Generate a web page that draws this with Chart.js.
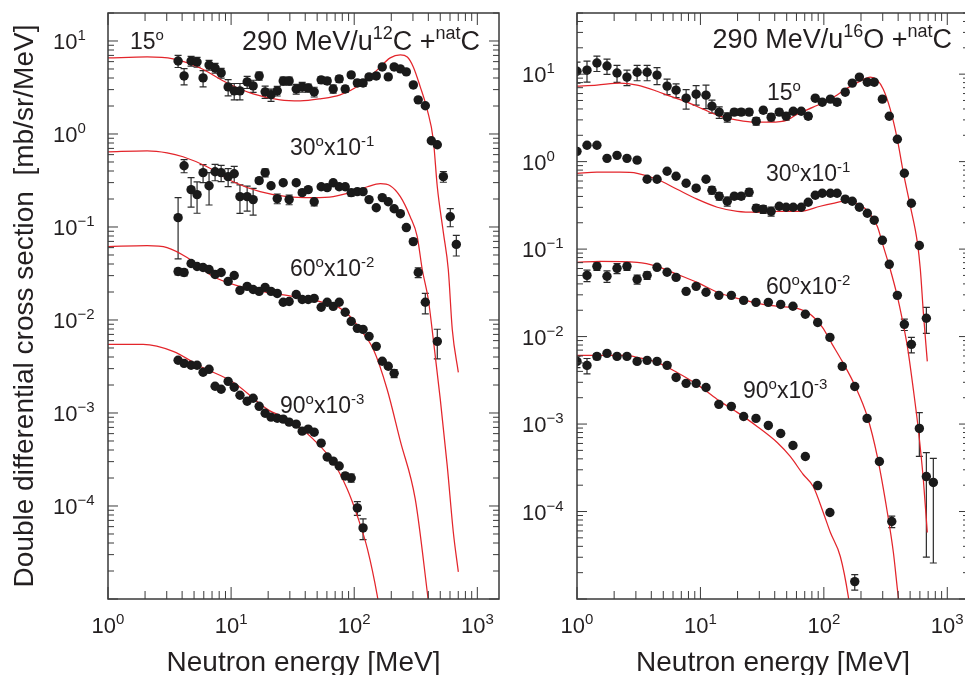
<!DOCTYPE html>
<html>
<head>
<meta charset="utf-8">
<title>Neutron double differential cross sections</title>
<script src="https://cdn.jsdelivr.net/npm/chart.js@4.4.1/dist/chart.umd.min.js"></script>
<style>
  html, body { margin: 0; padding: 0; background: #fff; overflow: hidden; }
  #wrap { position: relative; width: 965px; height: 675px; overflow: hidden; }
  canvas { position: absolute; top: 0; }
  #c12 { left: 0; }
  #o16 { left: 505px; }
</style>
</head>
<body>
<div id="wrap">
  <canvas id="c12" width="505" height="675"></canvas>
  <canvas id="o16" width="470" height="675"></canvas>
</div>
<script>
// Energies in MeV, cross sections in mb/sr/MeV (already multiplied by the
// 10^-1, 10^-2, 10^-3 offsets written next to each angle).
// Errors are relative (fraction of the value).

// ---------- 290 MeV/u 12C + natC ----------
const C12_E = [3.71, 4.15, 4.73, 5.29, 5.92, 6.62, 7.41, 8.3, 9.46, 10.6, 11.8, 13.5, 15.1, 16.9, 18.9,
  21.1, 23.7, 26.5, 29.6, 33.8, 37.8, 42.3, 47.3, 53.9, 60.3, 67.5, 75.5, 84.5, 94.5, 106, 118, 132,
  151, 169, 189, 211, 237, 265, 302, 331, 378, 423, 473, 530, 603, 675];

const C12_15 = [6.10, 4.21, 6.10, 5.95, 4.01, 5.52, 5.13, 4.54, 3.21, 2.91, 2.91, 3.63, 3.29, 4.21, 2.84,
  2.64, 2.91, 3.72, 3.72, 3.05, 3.21, 3.13, 2.84, 3.82, 3.72, 3.05, 3.91, 3.05, 4.32, 3.54, 3.54, 4.11,
  4.21, 5.26, 4.11, 5.26, 5.01, 4.65, 3.37, 2.33, 2.01, 0.845, 0.766, 0.348, 0.129, 0.065];
const C12_15_ERR = [0.15, 0.2, 0.12, 0.12, 0.2, 0.12, 0.12, 0.12, 0.2, 0.2, 0.2, 0.15, 0.15, 0.1, 0.15,
  0.15, 0.12, 0.1, 0.1, 0.12, 0.12, 0.1, 0.12, 0.08, 0.08, 0.1, 0.08, 0.08, 0.05, 0.08, 0.08, 0.05,
  0.05, 0.03, 0.03, 0.03, 0.03, 0.03, 0.03, 0.03, 0.03, 0.04, 0.04, 0.13, 0.22, 0.25];

const C12_30 = [0.126, 0.456, 0.252, 0.223, 0.384, 0.278, 0.393, 0.384, 0.348, 0.374, 0.212, 0.212, 0.197,
  0.315, 0.384, 0.278, 0.202, 0.299, 0.197, 0.299, 0.234, 0.252, 0.187, 0.271, 0.265, 0.299, 0.271, 0.271,
  0.234, 0.240, 0.240, 0.197, 0.161, 0.207, 0.187, 0.157, 0.139, 0.0986, 0.0697, 0.0324, 0.0155, null, 0.00589];
const C12_30_ERR = [0.64, 0.16, 0.35, 0.37, 0.22, 0.38, 0.2, 0.2, 0.22, 0.2, 0.34, 0.3, 0.32,
  0.06, 0.1, 0.06, 0.12, 0.06, 0.12, 0.06, 0.06, 0.06, 0.1, 0.06, 0.06, 0.06, 0.06, 0.06,
  0.08, 0.04, 0.04, 0.04, 0.04, 0.04, 0.04, 0.04, 0.04, 0.05, 0.06, 0.12, 0.25, null, 0.35];

const C12_60 = [0.0332, 0.0324, 0.0405, 0.0376, 0.0367, 0.0349, 0.0309, 0.0324, 0.0260, 0.0301, 0.0208,
  0.0230, 0.0213, 0.0203, 0.0224, 0.0203, 0.0193, 0.0155, 0.0158, 0.0188, 0.0166, 0.0166, 0.0171, 0.0137,
  0.0155, 0.0140, 0.0155, 0.0121, 0.00966, 0.00813, 0.00793, 0.00667, 0.00521, 0.00360, 0.00318, 0.00267];
const C12_60_ERR = [0.08, 0.08, 0.03, 0.03, 0.03, 0.03, 0.03, 0.03, 0.03, 0.03, 0.03, 0.03, 0.03, 0.03,
  0.03, 0.03, 0.03, 0.03, 0.03, 0.03, 0.03, 0.03, 0.03, 0.03, 0.03, 0.03, 0.03, 0.03, 0.03, 0.03, 0.03,
  0.03, 0.03, 0.03, 0.05, 0.1];

const C12_90 = [0.00369, 0.00342, 0.00326, 0.00326, 0.00274, 0.00295, 0.00194, 0.00180, 0.00219, 0.00189,
  0.00155, 0.00134, 0.00144, 0.00118, 0.000995, 0.000902, 0.000879, 0.000859, 0.000797, 0.000759,
  0.000638, 0.000670, 0.000622, 0.000474, 0.000336, 0.000304, 0.000269, 0.000210, 0.000200,
  0.0000953, 0.0000581];
const C12_90_ERR = [0.03, 0.03, 0.03, 0.03, 0.03, 0.03, 0.03, 0.03, 0.03, 0.03, 0.03, 0.03, 0.03, 0.03,
  0.03, 0.03, 0.03, 0.03, 0.03, 0.03, 0.03, 0.03, 0.03, 0.03, 0.03, 0.03, 0.03, 0.08, 0.1, 0.17, 0.25];

// model curves
const C12_M15_E = [1, 2.08, 3.38, 5.6, 9.28, 15.1, 25.0, 36.4, 52.9, 76.9, 112, 154, 196, 237, 270, 302,
  344, 392, 439, 473, 530, 581, 626, 701];
const C12_M15 = [6.58, 6.73, 6.41, 5.13, 3.54, 2.70, 2.33, 2.27, 2.39, 2.64, 3.38, 4.89, 6.58, 7.08, 6.73,
  5.26, 3.21, 1.82, 0.867, 0.271, 0.0871, 0.0349, 0.0079, 0.00274];
const C12_M30_E = [1, 2.08, 3.02, 4.07, 6.38, 10.4, 17.2, 28.5, 46.4, 67.5, 98.2, 128, 163, 196, 237, 285,
  325, 357, 400, 439, 500, 570, 638, 701];
const C12_M30 = [0.644, 0.660, 0.628, 0.569, 0.445, 0.307, 0.240, 0.212, 0.207, 0.212, 0.240, 0.271, 0.292,
  0.278, 0.212, 0.129, 0.0789, 0.0349, 0.0166, 0.00619, 0.00141, 0.000268, 0.0000526, 0.0000196];
const C12_M60_E = [1, 2.08, 3.02, 4.39, 7.14, 11.8, 19.6, 31.9, 52.9, 72.8, 92.7, 112, 143, 185, 237, 313,
  392, 407];
const C12_M60 = [0.0617, 0.0631, 0.0601, 0.0470, 0.0294, 0.0230, 0.0198, 0.0179, 0.0158, 0.0140, 0.0109,
  0.00793, 0.00484, 0.0018, 0.000498, 0.000119, 0.0000119, 0.0000078];
const C12_M90_E = [1, 1.93, 3.38, 5.6, 10.4, 19.6, 31.9, 46.4, 67.5, 87.7, 106, 128, 154, 160];
const C12_M90 = [0.00547, 0.00547, 0.0046, 0.00318, 0.00214, 0.0011, 0.000796, 0.000523, 0.000297,
  0.000152, 0.0000781, 0.0000346, 0.0000108, 0.0000078];

// ---------- 290 MeV/u 16O + natC ----------
const O16_E = [1.00, 1.205, 1.45, 1.75, 2.11, 2.54, 3.07, 3.70, 4.45, 5.37, 6.35, 7.66, 9.23, 11.1,
  12.4, 14.2, 16.5, 18.8, 21.4, 24.8, 28.3, 32.3, 37.4, 43.5, 49.5, 56.5, 65.6, 74.7, 85.2, 97.1,
  113, 128, 149, 170, 194, 225, 256, 298, 339, 394, 449, 512, 594, 677, 771];

const O16_15 = [10.8, 11.1, 13.4, 12.4, 10.3, 9.25, 10.5, 10.5, 9.75, 7.30, 6.56, 5.31, 5.90, 5.75,
  4.31, 3.68, 3.22, 3.68, 3.68, 3.68, 2.90, 3.87, 3.22, 3.68, 3.30, 3.77, 3.77, 3.30, 5.31, 4.78,
  5.18, 4.78, 6.22, 7.89, 9.25, 8.09, 8.09, 5.18, 3.30, 1.80, 0.736, 0.334, 0.110, 0.0162];
const O16_15_ERR = [0.27, 0.27, 0.2, 0.2, 0.22, 0.2, 0.2, 0.2, 0.22, 0.2, 0.18, 0.25, 0.25, 0.3,
  0.17, 0.15, 0.12, 0.08, 0.08, 0.08, 0.1, 0.08, 0.1, 0.08, 0.1, 0.06, 0.06, 0.08, 0.04, 0.04,
  0.04, 0.08, 0.03, 0.03, 0.03, 0.03, 0.03, 0.03, 0.03, 0.03, 0.03, 0.03, 0.03, 0.33];

const O16_30 = [1.31, 1.54, 1.54, 1.09, 1.18, 1.09, 1.04, 0.629, 0.629, 0.776, 0.681, 0.566, 0.497, 0.629,
  0.471, 0.402, 0.352, 0.402, 0.402, 0.447, 0.293, 0.285, 0.270, 0.309, 0.301, 0.301, 0.301, 0.343,
  0.413, 0.435, 0.435, 0.435, 0.372, 0.352, 0.301, 0.257, 0.214, 0.126, 0.0670, 0.0296, 0.0138,
  0.00815, 0.000891, 0.000251, 0.000215];
const O16_30_ERR = [0, 0, 0, 0, 0, 0, 0, 0, 0, 0, 0, 0.05, 0.05, 0.05,
  0.1, 0.1, 0.12, 0.08, 0.08, 0.1, 0.1, 0.1, 0.12, 0.05, 0.05, 0.03, 0.03, 0.03,
  0.03, 0.03, 0.03, 0.03, 0.03, 0.03, 0.03, 0.03, 0.03, 0.03, 0.03, 0.06, 0.15,
  0.2, 0.52, 0.88, 0.88];

// 60 and 90 degrees use a coarser binning above 11 MeV
const O16_E2 = [1.00, 1.205, 1.45, 1.75, 2.11, 2.54, 3.07, 3.70, 4.45, 5.37, 6.35, 7.66, 9.23, 11.1,
  14.1, 17.8, 22.4, 28.2, 35.5, 44.7, 56.2, 70.8, 89.1, 112, 141, 178, 224, 282, 355];

const O16_60 = [null, 0.0501, 0.0635, 0.0489, 0.0603, 0.0635, 0.0451, 0.0501, 0.0619, 0.0543, 0.0475,
  0.0329, 0.0375, 0.0321, 0.0296, 0.0296, 0.0259, 0.0246, 0.0246, 0.0233, 0.0222, 0.0180, 0.0145,
  0.00979, 0.00456, 0.00269, 0.00116, 0.000373, 0.0000769];
const O16_60_ERR = [null, 0.15, 0.1, 0.15, 0.13, 0.1, 0.12, 0.1, 0.04, 0.04, 0.04,
  0.03, 0.03, 0.03, 0.03, 0.03, 0.03, 0.03, 0.03, 0.03, 0.03, 0.03, 0.03,
  0.03, 0.03, 0.03, 0.03, 0.05, 0.15];

const O16_90 = [0.0052, 0.00468, 0.00593, 0.00643, 0.00593, 0.00593, 0.0052, 0.00535, 0.0052, 0.00468,
  0.00341, 0.00292, 0.00292, 0.00262, 0.00168, 0.00159, 0.00122, 0.00116, 0.000964, 0.00078,
  0.000569, 0.000426, 0.000198, 0.0000975, null, 0.0000158];
const O16_90_ERR = [0.15, 0.2, 0.08, 0.04, 0.03, 0.03, 0.03, 0.03, 0.03, 0.03,
  0.04, 0.03, 0.03, 0.03, 0.03, 0.03, 0.03, 0.03, 0.03, 0.03,
  0.03, 0.03, 0.03, 0.05, null, 0.2];

const O16_M15_E = [1.00, 1.45, 2.23, 3.07, 4.45, 5.68, 7.80, 10.5, 14.4, 19.9, 27.8, 36.7, 50.5, 60.8,
  82.0, 113, 155, 197, 238, 271, 303, 345, 394, 440, 502, 572, 605, 640, 689];
const O16_M15 = [7.30, 7.48, 7.89, 7.48, 6.38, 5.60, 4.78, 3.98, 3.31, 2.98, 2.82, 2.82, 2.98, 3.49,
  4.19, 5.18, 6.92, 8.32, 9.25, 8.54, 6.73, 3.98, 1.80, 0.757, 0.309, 0.120, 0.0588, 0.0189, 0.0052];
const O16_M30_E = [1.00, 1.45, 2.23, 3.07, 4.45, 6.47, 9.40, 13.7, 19.9, 28.8, 41.9, 64.4, 93.5, 119,
  144, 173, 205, 238, 271, 303, 345, 394, 432, 475, 531, 583, 640, 689];
const O16_M30 = [0.736, 0.757, 0.757, 0.736, 0.629, 0.483, 0.372, 0.301, 0.270, 0.264, 0.270, 0.270,
  0.309, 0.334, 0.352, 0.343, 0.309, 0.250, 0.182, 0.108, 0.0588, 0.0288, 0.0157, 0.00773, 0.00249,
  0.000867, 0.000232, 0.0000575];
const O16_M60_E = [1.00, 1.54, 3.07, 4.45, 6.47, 9.40, 13.7, 19.9, 28.8, 41.9, 60.8, 77.6, 97.1, 117,
  141, 180, 225, 271, 327, 366, 401, 409];
const O16_M60 = [0.0706, 0.0724, 0.0706, 0.0635, 0.0515, 0.0417, 0.0321, 0.0274, 0.0240, 0.0222,
  0.0210, 0.0180, 0.0128, 0.00815, 0.0052, 0.00269, 0.00122, 0.000426, 0.0000975, 0.000034,
  0.0000106, 0.0000087];
const O16_M90_E = [1.00, 1.62, 2.54, 3.07, 4.45, 6.47, 9.40, 13.7, 19.9, 28.8, 41.9, 53.4, 68.1, 82.0,
  98.9, 113, 136, 158, 161];
const O16_M90 = [0.0061, 0.0061, 0.0061, 0.00578, 0.00507, 0.00389, 0.00284, 0.00191, 0.00136, 0.00094,
  0.000616, 0.000426, 0.000265, 0.000193, 0.0000975, 0.0000575, 0.0000306, 0.0000106, 0.0000087];

// axis ranges and labelled decades (exponents of ten)
const X_RANGE = [1, 1500];
const Y_RANGE_C12 = [1e-5, 20];
const Y_RANGE_O16 = [1e-5, 50];
const X_DECADES = [0, 1, 2, 3];
const Y_DECADES = [1, 0, -1, -2, -3, -4];

const RED = '#e3252b';
const DOT = '#1a1a1a';
const INK = '#231f20';
const FONT = '"Liberation Sans", Arial, Helvetica, sans-serif';

// zip energies and values into scatter points, skipping empty bins
function points(energies, values, errors) {
  const out = [];
  energies.forEach((e, i) => {
    if (values[i] == null) return;
    out.push({ x: e, y: values[i], err: errors ? (errors[i] || 0) : 0 });
  });
  return out;
}

function modelLine(energies, values) {
  return {
    data: points(energies, values),
    showLine: true,
    borderColor: RED,
    borderWidth: 1.25,
    pointRadius: 0,
    pointHoverRadius: 0,
    fill: false,
    cubicInterpolationMode: 'monotone',
    order: 2
  };
}

function measured(energies, values, errors) {
  return {
    data: points(energies, values, errors),
    showLine: false,
    pointRadius: 4.7,
    pointHoverRadius: 4.7,
    backgroundColor: DOT,
    borderWidth: 0,
    errorBars: true,
    order: 1
  };
}

// text made of plain and superscript runs: [text, isSup]
function drawRich(ctx, runs, x, y, size, align) {
  const supSize = Math.round(size * 0.66);
  let width = 0;
  runs.forEach(r => {
    ctx.font = (r[1] ? supSize : size) + 'px ' + FONT;
    width += ctx.measureText(r[0]).width;
  });
  let cx = align === 'center' ? x - width / 2 : align === 'right' ? x - width : x;
  ctx.textAlign = 'left';
  ctx.textBaseline = 'alphabetic';
  runs.forEach(r => {
    ctx.font = (r[1] ? supSize : size) + 'px ' + FONT;
    ctx.fillText(r[0], cx, r[1] ? y - size * 0.4 : y);
    cx += ctx.measureText(r[0]).width;
  });
}

// every 1..9 x 10^k inside the axis range
function logMarks(min, max) {
  const marks = [];
  for (let k = Math.floor(Math.log10(min)); k <= Math.ceil(Math.log10(max)); k++) {
    for (let d = 1; d <= 9; d++) {
      const v = d * Math.pow(10, k);
      if (v >= min * 0.999 && v <= max * 1.001) marks.push({ v, major: d === 1 });
    }
  }
  return marks;
}

function drawErrorBars(chart) {
  const { ctx, chartArea: a, scales: { x, y } } = chart;
  ctx.save();
  ctx.beginPath();
  ctx.rect(a.left, a.top, a.right - a.left, a.bottom - a.top);
  ctx.clip();
  ctx.strokeStyle = '#2b2b2b';
  ctx.lineWidth = 1.2;
  chart.data.datasets.forEach(ds => {
    if (!ds.errorBars) return;
    ds.data.forEach(p => {
      if (!p.err) return;
      const px = x.getPixelForValue(p.x);
      const top = y.getPixelForValue(p.y * (1 + p.err));
      const bot = y.getPixelForValue(Math.max(p.y * (1 - p.err), y.min));
      ctx.beginPath();
      ctx.moveTo(px, top); ctx.lineTo(px, bot);
      ctx.moveTo(px - 3.5, top); ctx.lineTo(px + 3.5, top);
      ctx.moveTo(px - 3.5, bot); ctx.lineTo(px + 3.5, bot);
      ctx.stroke();
    });
  });
  ctx.restore();
}

function drawFrame(chart, opts) {
  const { ctx, chartArea: a, scales: { x, y } } = chart;
  ctx.save();
  ctx.strokeStyle = '#3a3a3a';
  ctx.lineWidth = 1;
  ctx.beginPath();
  logMarks(x.min, x.max).forEach(m => {
    const px = x.getPixelForValue(m.v);
    const len = m.major ? 12 : 8;
    ctx.moveTo(px, a.bottom); ctx.lineTo(px, a.bottom - len);
    ctx.moveTo(px, a.top); ctx.lineTo(px, a.top + len);
  });
  logMarks(y.min, y.max).forEach(m => {
    const py = y.getPixelForValue(m.v);
    const len = m.major ? 10 : 6;
    ctx.moveTo(a.left, py); ctx.lineTo(a.left + len, py);
    ctx.moveTo(a.right, py); ctx.lineTo(a.right - len, py);
  });
  ctx.stroke();
  ctx.lineWidth = 1.5;
  ctx.strokeRect(a.left, a.top, a.right - a.left, a.bottom - a.top);

  // decade labels
  ctx.fillStyle = INK;
  X_DECADES.forEach(k => {
    const px = x.getPixelForValue(Math.pow(10, k));
    drawRich(ctx, [['10'], [String(k), true]], px, 633, 22, 'center');
  });
  Y_DECADES.forEach(k => {
    const py = y.getPixelForValue(Math.pow(10, k));
    drawRich(ctx, [['10'], [String(k).replace('-', '\u2212'), true]], opts.yLabelX, py + 8, 22, 'left');
  });

  // panel title and angle labels
  opts.notes.forEach(n => drawRich(ctx, n.runs, n.x, n.y, n.size || 23, n.align || 'left'));

  // axis titles
  ctx.font = '28px ' + FONT;
  ctx.textAlign = 'center';
  ctx.textBaseline = 'alphabetic';
  ctx.fillText('Neutron energy [MeV]', (a.left + a.right) / 2, 671);
  if (opts.yTitle) {
    ctx.translate(33, 306);
    ctx.rotate(-Math.PI / 2);
    ctx.fillText(opts.yTitle, 0, 0);
  }
  ctx.restore();
}

const panelPlugin = {
  id: 'panel',
  beforeDatasetsDraw(chart) { drawErrorBars(chart); },
  afterDraw(chart, args, opts) { drawFrame(chart, opts); }
};

function makePanel(id, padding, yRange, datasets, panelOpts) {
  return new Chart(document.getElementById(id), {
    type: 'scatter',
    data: { datasets },
    options: {
      responsive: false,
      animation: false,
      events: [],
      layout: { padding },
      scales: {
        x: { type: 'logarithmic', min: X_RANGE[0], max: X_RANGE[1], display: false },
        y: { type: 'logarithmic', min: yRange[0], max: yRange[1], display: false }
      },
      plugins: {
        legend: { display: false },
        tooltip: { enabled: false },
        panel: panelOpts
      }
    },
    plugins: [panelPlugin]
  });
}

makePanel('c12', { left: 108, right: 6, top: 13, bottom: 76 }, Y_RANGE_C12, [
  modelLine(C12_M15_E, C12_M15),
  modelLine(C12_M30_E, C12_M30),
  modelLine(C12_M60_E, C12_M60),
  modelLine(C12_M90_E, C12_M90),
  measured(C12_E, C12_15, C12_15_ERR),
  measured(C12_E, C12_30, C12_30_ERR),
  measured(C12_E, C12_60, C12_60_ERR),
  measured(C12_E, C12_90, C12_90_ERR)
], {
  yLabelX: 53,
  yTitle: 'Double differential cross section  [mb/sr/MeV]',
  notes: [
    { runs: [['290 MeV/u'], ['12', true], ['C +'], ['nat', true], ['C']], x: 480, y: 50, size: 27, align: 'right' },
    { runs: [['15'], ['o', true]], x: 130, y: 49 },
    { runs: [['30'], ['o', true], ['x10'], ['-1', true]], x: 290, y: 155 },
    { runs: [['60'], ['o', true], ['x10'], ['-2', true]], x: 290, y: 276 },
    { runs: [['90'], ['o', true], ['x10'], ['-3', true]], x: 280, y: 413 }
  ]
});

makePanel('o16', { left: 72, right: 6, top: 13, bottom: 76 }, Y_RANGE_O16, [
  modelLine(O16_M15_E, O16_M15),
  modelLine(O16_M30_E, O16_M30),
  modelLine(O16_M60_E, O16_M60),
  modelLine(O16_M90_E, O16_M90),
  measured(O16_E, O16_15, O16_15_ERR),
  measured(O16_E, O16_30, O16_30_ERR),
  measured(O16_E2, O16_60, O16_60_ERR),
  measured(O16_E2, O16_90, O16_90_ERR)
], {
  yLabelX: 17,
  notes: [
    { runs: [['290 MeV/u'], ['16', true], ['O +'], ['nat', true], ['C']], x: 447, y: 48, size: 27, align: 'right' },
    { runs: [['15'], ['o', true]], x: 262, y: 100 },
    { runs: [['30'], ['o', true], ['x10'], ['-1', true]], x: 261, y: 181 },
    { runs: [['60'], ['o', true], ['x10'], ['-2', true]], x: 261, y: 294 },
    { runs: [['90'], ['o', true], ['x10'], ['-3', true]], x: 238, y: 398 }
  ]
});
</script>
</body>
</html>
